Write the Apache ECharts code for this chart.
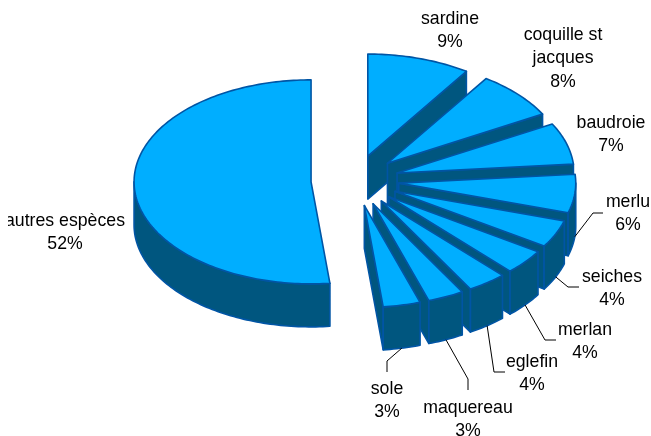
<!DOCTYPE html>
<html>
<head>
<meta charset="utf-8">
<script src="https://cdn.jsdelivr.net/npm/echarts@6/dist/echarts.min.js"></script>
<style>
html, body { margin: 0; padding: 0; background: #fff; }
#main { width: 651px; height: 436px; }
</style>
</head>
<body>
<div id="main"></div>
<script>
// species and their share of the catch, clockwise from 12 o'clock
var categories = ['sardine', 'coquille st\njacques', 'baudroie', 'merlu', 'seiches', 'merlan', 'eglefin', 'maquereau', 'sole', 'autres espèces'];
var shares = [9.4, 7.6, 6.6, 6.1, 4.35, 3.95, 3.6, 3.3, 3.4, 51.7];

// label centre x, first line y, then leader elbow points (layout only)
var labelCentre = [[450, 7], [563, 23], [611, 111], [628, 190], [612, 265], [585, 318], [532, 350], [468, 396], [387, 377], [65, 209]];
var leaderPath = [null, null, null, [[593, 213], [603, 213]], [[568, 287], [579, 287]], [[545, 340], [556, 340]], [[494, 372], [505, 372]], [[468, 379], [468, 390]], [[387, 361], [387, 372]], null];

var CX = 355, CY = 180.5, RX = 177, RY = 102, EXPLODE = 44, TILT = 0.58, DEPTH = 43;
var TOP = '#00aeff', SIDE = '#00567f', EDGE = '#0055a5';
var total = shares.reduce(function (a, b) { return a + b; }, 0);

var data = [];
var running = 0;
shares.forEach(function (v, i) {
    data.push([running, v, i]);
    running += v;
});

function toRad(share) {
    return share / total * Math.PI * 2;
}

function renderSlice(params, api) {
    var a0 = toRad(api.value(0));
    var a1 = toRad(api.value(0) + api.value(1));
    var i = api.value(2);
    var mid = (a0 + a1) / 2;
    var cx = CX + EXPLODE * Math.sin(mid);
    var cy = CY - EXPLODE * TILT * Math.cos(mid);

    function rim(t, dy) {
        return [cx + RX * Math.sin(t), cy - RY * Math.cos(t) + dy];
    }
    function arc(from, to, dy) {
        var pts = [];
        var n = Math.max(2, Math.ceil((to - from) / 0.02));
        for (var k = 0; k <= n; k++) {
            pts.push(rim(from + (to - from) * k / n, dy));
        }
        return pts;
    }
    function poly(points, fill) {
        return {
            type: 'polygon',
            shape: { points: points },
            style: { fill: fill, stroke: EDGE, lineWidth: 1.6, lineJoin: 'round' }
        };
    }

    var kids = [];
    // radial end wall shows on the right hand side only
    if (a1 < Math.PI) {
        kids.push(poly([[cx, cy], rim(a1, 0), rim(a1, DEPTH), [cx, cy + DEPTH]], SIDE));
    }
    // outer wall, front half of the rim
    var w0 = Math.max(a0, Math.PI / 2);
    var w1 = Math.min(a1, Math.PI * 1.5);
    if (w1 > w0) {
        kids.push(poly(arc(w0, w1, 0).concat(arc(w0, w1, DEPTH).reverse()), SIDE));
    }
    kids.push(poly([[cx, cy]].concat(arc(a0, a1, 0)), TOP));

    // leader line starts on the bottom of the rim
    if (leaderPath[i]) {
        var pts = [rim(mid, DEPTH)].concat(leaderPath[i]);
        kids.push({
            type: 'polyline',
            shape: { points: pts },
            style: { fill: null, stroke: '#000', lineWidth: 1 },
            z2: 50
        });
    }
    return { type: 'group', children: kids };
}

function renderLabel(params, api) {
    var i = api.value(2);
    var pos = labelCentre[i];
    return {
        type: 'text',
        x: pos[0],
        y: pos[1],
        style: {
            text: categories[i] + '\n' + Math.round(api.value(1) / total * 100) + '%',
            fill: '#000',
            font: '17.7px "Liberation Sans", Arial, sans-serif',
            lineHeight: 23.5,
            align: 'center',
            verticalAlign: 'top'
        },
        clipPath: { type: 'rect', shape: { x: 8 - pos[0], y: -50, width: 700, height: 200 } }
    };
}

var myChart = echarts.init(document.getElementById('main'), null, { renderer: 'canvas' });
var option = {
    animation: false,
    backgroundColor: '#fff',
    series: [{
        type: 'custom',
        coordinateSystem: 'none',
        silent: true,
        renderItem: renderSlice,
        data: data,
        z: 1
    }, {
        type: 'custom',
        coordinateSystem: 'none',
        silent: true,
        renderItem: renderLabel,
        data: data,
        z: 2
    }]
};
myChart.setOption(option);
</script>
</body>
</html>
